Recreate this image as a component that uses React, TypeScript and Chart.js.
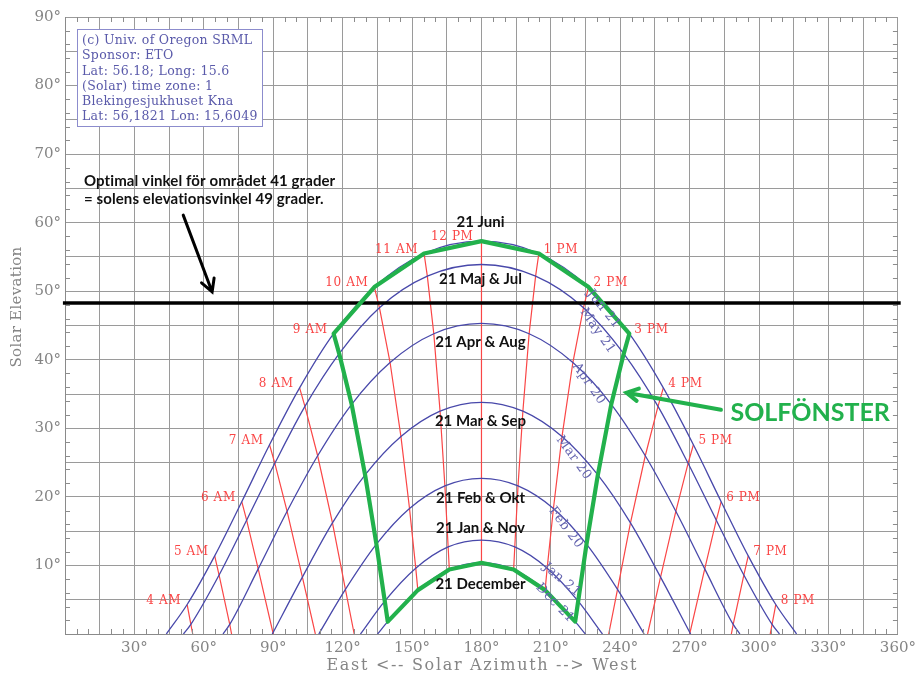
import React, { useEffect, useRef } from 'react';
import { Chart, registerables } from 'chart.js';

Chart.register(...registerables);

type P = [number, number];

// ---------- tick labels ----------
const azimuthTickLabels = [30, 60, 90, 120, 150, 180, 210, 240, 270, 300, 330, 360];
const elevationTickLabels = [10, 20, 30, 40, 50, 60, 70, 80, 90];

// ---------- sun paths (azimuth °, elevation °) ----------
const pathJun: P[] = [[43.8, 0], [52.8, 4.3], [64.7, 11.4], [76.4, 19.3], [88.4, 27.6], [101.4, 35.9], [116.1, 43.8], [133.7, 50.6], [155.2, 55.5], [180, 57.3], [204.8, 55.5], [226.3, 50.6], [243.9, 43.8], [258.6, 35.9], [271.6, 27.6], [283.6, 19.3], [295.3, 11.4], [307.2, 4.3], [316.2, 0]];
const pathMay: P[] = [[51.2, 0], [54.4, 1.4], [66.6, 8.6], [78.5, 16.6], [90.7, 24.9], [103.7, 33.2], [118.5, 40.9], [135.9, 47.6], [156.6, 52.2], [180, 53.9], [203.4, 52.2], [224.1, 47.6], [241.5, 40.9], [256.3, 33.2], [269.3, 24.9], [281.5, 16.6], [293.4, 8.6], [305.6, 1.4], [308.8, 0]];
const pathApr: P[] = [[68.3, 0], [71.2, 1.4], [83.5, 9.5], [96.0, 17.9], [109.2, 26.0], [123.9, 33.5], [140.5, 39.6], [159.4, 43.8], [180, 45.3], [200.6, 43.8], [219.5, 39.6], [236.1, 33.5], [250.8, 26.0], [264.0, 17.9], [276.5, 9.5], [288.8, 1.4], [291.7, 0]];
const pathMar: P[] = [[89.6, 0], [102.6, 8.3], [115.6, 16.2], [129.7, 23.2], [145.2, 28.8], [162.1, 32.5], [180, 33.8], [197.9, 32.5], [214.8, 28.8], [230.3, 23.2], [244.4, 16.2], [257.4, 8.3], [270.4, 0]];
const pathFeb: P[] = [[109.7, 0], [121.2, 6.5], [134.6, 13.1], [148.9, 18.3], [164.2, 21.6], [180, 22.7], [195.8, 21.6], [211.1, 18.3], [225.4, 13.1], [238.8, 6.5], [250.3, 0]];
const pathJan: P[] = [[127.7, 0], [138.2, 4.8], [151.6, 9.6], [165.6, 12.7], [180, 13.7], [194.4, 12.7], [208.4, 9.6], [221.8, 4.8], [232.3, 0]];
const pathDec: P[] = [[135.1, 0], [139.5, 1.8], [152.5, 6.4], [166.1, 9.4], [180, 10.4], [193.9, 9.4], [207.5, 6.4], [220.5, 1.8], [224.9, 0]];

// ---------- hour lines (first point on the 21 June path) ----------
const hourLabels = ['4 AM', '5 AM', '6 AM', '7 AM', '8 AM', '9 AM', '10 AM', '11 AM', '12 PM', '1 PM', '2 PM', '3 PM', '4 PM', '5 PM', '6 PM', '7 PM', '8 PM'];
const hour04: P[] = [[52.8, 4.3], [54.4, 1.4], [55.2, 0]];
const hour05: P[] = [[64.7, 11.4], [66.6, 8.6], [71.2, 1.4], [72.0, 0]];
const hour06: P[] = [[76.4, 19.3], [78.5, 16.6], [83.5, 9.5], [90.0, 0]];
const hour07: P[] = [[88.4, 27.6], [90.7, 24.9], [96.0, 17.9], [102.6, 8.3], [108.2, 0]];
const hour08: P[] = [[101.4, 35.9], [103.7, 33.2], [109.2, 26.0], [115.6, 16.2], [121.2, 6.5], [125.0, 0]];
const hour09: P[] = [[116.1, 43.8], [118.5, 40.9], [123.9, 33.5], [129.7, 23.2], [134.6, 13.1], [138.2, 4.8], [139.5, 1.8]];
const hour10: P[] = [[133.7, 50.6], [135.9, 47.6], [140.5, 39.6], [145.2, 28.8], [148.9, 18.3], [151.6, 9.6], [152.5, 6.4]];
const hour11: P[] = [[155.2, 55.5], [156.6, 52.2], [159.4, 43.8], [162.1, 32.5], [164.2, 21.6], [165.6, 12.7], [166.1, 9.4]];
const hour12: P[] = [[180, 57.3], [180, 10.4]];
const hour13: P[] = [[204.8, 55.5], [203.4, 52.2], [200.6, 43.8], [197.9, 32.5], [195.8, 21.6], [194.4, 12.7], [193.9, 9.4]];
const hour14: P[] = [[226.3, 50.6], [224.1, 47.6], [219.5, 39.6], [214.8, 28.8], [211.1, 18.3], [208.4, 9.6], [207.5, 6.4]];
const hour15: P[] = [[243.9, 43.8], [241.5, 40.9], [236.1, 33.5], [230.3, 23.2], [225.4, 13.1], [221.8, 4.8], [220.5, 1.8]];
const hour16: P[] = [[258.6, 35.9], [256.3, 33.2], [250.8, 26.0], [244.4, 16.2], [238.8, 6.5], [235.0, 0]];
const hour17: P[] = [[271.6, 27.6], [269.3, 24.9], [264.0, 17.9], [257.4, 8.3], [251.8, 0]];
const hour18: P[] = [[283.6, 19.3], [281.5, 16.6], [276.5, 9.5], [270.0, 0]];
const hour19: P[] = [[295.3, 11.4], [293.4, 8.6], [288.8, 1.4], [288.0, 0]];
const hour20: P[] = [[307.2, 4.3], [305.6, 1.4], [304.8, 0]];

// ---------- solar window (green) ----------
const solarWindow: P[] = [[139.5, 1.8], [138.2, 4.8], [134.6, 13.1], [129.7, 23.2], [123.9, 33.5], [118.5, 40.9], [116.1, 43.8], [133.7, 50.6], [155.2, 55.5], [180, 57.3], [204.8, 55.5], [226.3, 50.6], [243.9, 43.8], [241.5, 40.9], [236.1, 33.5], [230.3, 23.2], [225.4, 13.1], [221.8, 4.8], [220.5, 1.8], [207.5, 6.4], [193.9, 9.4], [180, 10.4], [166.1, 9.4], [152.5, 6.4], [139.5, 1.8]];

// optimal elevation line
const optimalLine: P[] = [[-0.9, 48.3], [361.2, 48.3]];

// ---------- labels ----------
const dateLabels = ['21 Juni', '21 Maj & Jul', '21 Apr & Aug', '21 Mar & Sep', '21 Feb & Okt', '21 Jan & Nov', '21 December'];
const dateLabelElevations = [60.1, 51.8, 42.5, 31.0, 19.8, 15.4, 7.3];

const curveTags = ['Jun 21', 'May 21', 'Apr 20', 'Mar 20', 'Feb 20', 'Jan 21', 'Dec 21'];
const curveTagAz = [232.8, 230.2, 226.4, 219.9, 216.5, 214.8, 211.8];
const curveTagEl = [47.4, 44.2, 36.5, 25.7, 15.5, 7.9, 4.5];
const curveTagAngle = [51, 55, 55, 54, 53, 40, 46];

const infoLines = ['(c) Univ. of Oregon SRML', 'Sponsor: ETO', 'Lat: 56.18; Long: 15.6', '(Solar) time zone: 1', 'Blekingesjukhuset Kna', 'Lat: 56,1821 Lon: 15,6049'];
const noteLines = ['Optimal vinkel för området 41 grader', '= solens elevationsvinkel 49 grader.'];
const noteAz = 8.2;
const noteEl = [66.1, 63.4];
const blackArrow: P[] = [[51.1, 61.1], [63.6, 49.9]];
const greenArrow: P[] = [[283.5, 32.7], [242.7, 35.2]];
const windowLabel = 'SOLFÖNSTER';
const windowLabelPos: P = [287.6, 32.3];

const BLUE = 'rgb(72,72,170)';
const RED = 'rgb(250,70,70)';
const GREEN = '#22b14c';
const GRAY_TXT = '#858585';
const SERIF = '"DejaVu Serif", "Liberation Serif", serif';
const SANS = 'Lato, "Open Sans", sans-serif';

const xy = (pts: P[]) => pts.map(([x, y]) => ({ x, y }));

export default function App() {
  const ref = useRef<HTMLCanvasElement | null>(null);

  useEffect(() => {
    if (!ref.current) return;
    const paths = [pathJun, pathMay, pathApr, pathMar, pathFeb, pathJan, pathDec];
    const hourLines = [hour04, hour05, hour06, hour07, hour08, hour09, hour10, hour11, hour12, hour13, hour14, hour15, hour16, hour17, hour18, hour19, hour20];

    const datasets: any[] = [];
    datasets.push({ data: xy(solarWindow), borderColor: GREEN, borderWidth: 4.2, tension: 0, borderJoinStyle: 'round', borderCapStyle: 'round' });
    datasets.push({ data: xy(optimalLine), borderColor: '#000', borderWidth: 3.5, tension: 0, clip: false });
    paths.forEach((p) => datasets.push({ data: xy(p), borderColor: BLUE, borderWidth: 1.3, cubicInterpolationMode: 'monotone' }));
    hourLines.forEach((p) => datasets.push({ data: xy(p), borderColor: RED, borderWidth: 1.2, tension: 0 }));

    const drawArrow = (ctx: CanvasRenderingContext2D, x1: number, y1: number, x2: number, y2: number, color: string, w: number, head: number) => {
      const ang = Math.atan2(y2 - y1, x2 - x1);
      ctx.strokeStyle = color;
      ctx.lineWidth = w;
      ctx.lineCap = 'round';
      ctx.beginPath();
      ctx.moveTo(x1, y1);
      ctx.lineTo(x2, y2);
      ctx.moveTo(x2 - head * Math.cos(ang - 0.5), y2 - head * Math.sin(ang - 0.5));
      ctx.lineTo(x2, y2);
      ctx.lineTo(x2 - head * Math.cos(ang + 0.5), y2 - head * Math.sin(ang + 0.5));
      ctx.stroke();
    };

    const overlay = {
      id: 'overlay',
      afterDatasetsDraw(chart: any) {
        const { ctx, chartArea: ca } = chart;
        const sx = chart.scales.x, sy = chart.scales.y;
        const px = (a: number) => sx.getPixelForValue(a);
        const py = (e: number) => sy.getPixelForValue(e);
        ctx.save();

        // minor ticks
        ctx.strokeStyle = '#8c8c8c';
        ctx.lineWidth = 1;
        ctx.beginPath();
        for (let a = 5; a < 360; a += 5) {
          if (a % 15 === 0) continue;
          const X = Math.round(px(a)) + 0.5;
          ctx.moveTo(X, ca.bottom); ctx.lineTo(X, ca.bottom - 5);
          ctx.moveTo(X, ca.top); ctx.lineTo(X, ca.top + 5);
        }
        for (let e = 2; e < 90; e += 2) {
          if (e % 5 === 0) continue;
          const Y = Math.round(py(e)) + 0.5;
          ctx.moveTo(ca.left, Y); ctx.lineTo(ca.left + 5, Y);
          ctx.moveTo(ca.right, Y); ctx.lineTo(ca.right - 5, Y);
        }
        ctx.stroke();

        // hour labels
        ctx.fillStyle = RED;
        ctx.font = `12px ${SERIF}`;
        ctx.textBaseline = 'middle';
        (ctx as any).letterSpacing = '0.6px';
        hourLines.forEach((line, i) => {
          const [a, e] = line[0];
          const X = px(a), Y = py(e);
          if (a <= 180) {
            ctx.textAlign = 'right';
            ctx.fillText(hourLabels[i], X - (a === 180 ? 8 : 6), Y - 4);
          } else {
            ctx.textAlign = 'left';
            ctx.fillText(hourLabels[i], X + 5, Y - 4);
          }
        });

        // curve tags (rotated)
        ctx.fillStyle = 'rgb(100,100,175)';
        ctx.font = `13px ${SERIF}`;
        ctx.textAlign = 'center';
        (ctx as any).letterSpacing = '0.5px';
        curveTags.forEach((t, i) => {
          ctx.save();
          ctx.translate(px(curveTagAz[i]), py(curveTagEl[i]));
          ctx.rotate((curveTagAngle[i] * Math.PI) / 180);
          ctx.fillText(t, 0, 0);
          ctx.restore();
        });
        (ctx as any).letterSpacing = '0px';

        // date labels
        ctx.fillStyle = '#111';
        ctx.font = `bold 15px ${SANS}`;
        ctx.textAlign = 'center';
        dateLabels.forEach((t, i) => ctx.fillText(t, px(180) - 1, py(dateLabelElevations[i])));

        // note text
        ctx.textAlign = 'left';
        ctx.font = `bold 15px ${SANS}`;
        (ctx as any).letterSpacing = '0.1px';
        noteLines.forEach((t, i) => ctx.fillText(t, px(noteAz), py(noteEl[i])));
        (ctx as any).letterSpacing = '0px';

        // arrows
        drawArrow(ctx, px(blackArrow[0][0]), py(blackArrow[0][1]), px(blackArrow[1][0]), py(blackArrow[1][1]), '#000', 3, 14);
        drawArrow(ctx, px(greenArrow[0][0]), py(greenArrow[0][1]), px(greenArrow[1][0]), py(greenArrow[1][1]), GREEN, 4, 13);

        // SOLFÖNSTER
        ctx.fillStyle = GREEN;
        ctx.font = `bold 25px ${SANS}`;
        ctx.textAlign = 'left';
        ctx.fillText(windowLabel, px(windowLabelPos[0]), py(windowLabelPos[1]));

        // info box
        const bx = ca.left + 12, by = ca.top + 12, bw = 185, bh = 97;
        ctx.fillStyle = '#fff';
        ctx.fillRect(bx, by, bw, bh);
        ctx.strokeStyle = 'rgb(140,140,205)';
        ctx.lineWidth = 1;
        ctx.strokeRect(bx + 0.5, by + 0.5, bw, bh);
        ctx.fillStyle = 'rgb(90,90,170)';
        ctx.font = `12.5px ${SERIF}`;
        (ctx as any).letterSpacing = '0.3px';
        infoLines.forEach((t, i) => ctx.fillText(t, bx + 5, by + 12 + i * 15.2));
        (ctx as any).letterSpacing = '0px';

        // axis titles
        ctx.fillStyle = GRAY_TXT;
        ctx.font = `16px ${SERIF}`;
        ctx.textAlign = 'center';
        const xt = 'East <-- Solar Azimuth --> West';
        const w0 = ctx.measureText(xt).width;
        const sp = Math.max(0, (310 - w0) / (xt.length - 1));
        (ctx as any).letterSpacing = `${sp}px`;
        ctx.fillText(xt, px(180) + sp / 2, 666);
        (ctx as any).letterSpacing = '0px';
        ctx.save();
        ctx.translate(17, 307);
        ctx.rotate(-Math.PI / 2);
        ctx.font = `15px ${SERIF}`;
        (ctx as any).letterSpacing = '0.3px';
        ctx.fillText('Solar Elevation', 0, 0);
        ctx.restore();

        ctx.restore();
      },
    };

    const chart = new Chart(ref.current, {
      type: 'scatter',
      data: { datasets },
      options: {
        responsive: false,
        maintainAspectRatio: false,
        animation: false,
        showLine: true,
        elements: { point: { radius: 0, hoverRadius: 0 } },
        layout: { padding: { top: 17, right: 18, left: 0, bottom: 0 } },
        plugins: { legend: { display: false }, tooltip: { enabled: false }, title: { display: false } },
        scales: {
          x: {
            type: 'linear',
            min: 0,
            max: 360,
            afterFit: (s: any) => { s.height = 40; },
            ticks: {
              stepSize: 15,
              autoSkip: false,
              maxRotation: 0,
              padding: 5,
              color: GRAY_TXT,
              font: { family: SERIF, size: 15 },
              callback: (v: any) => (azimuthTickLabels.includes(v) ? `${v}°` : ''),
            },
            grid: { color: '#9a9a9a', lineWidth: 1, drawTicks: false },
            border: { color: '#8a8a8a', width: 1 },
          },
          y: {
            type: 'linear',
            min: 0,
            max: 90,
            afterFit: (s: any) => { s.width = 65; },
            ticks: {
              stepSize: 5,
              autoSkip: false,
              padding: 4,
              color: GRAY_TXT,
              font: { family: SERIF, size: 15 },
              callback: (v: any) => (elevationTickLabels.includes(v) ? `${v}°` : ''),
            },
            grid: { color: '#9a9a9a', lineWidth: 1, drawTicks: false },
            border: { color: '#8a8a8a', width: 1 },
          },
        },
      } as any,
      plugins: [overlay],
    });
    return () => chart.destroy();
  }, []);

  return (
    <div style={{ position: 'absolute', left: 0, top: 0, width: 921, height: 674, background: '#fff' }}>
      <canvas ref={ref} width={921} height={674} style={{ display: 'block' }} />
    </div>
  );
}
